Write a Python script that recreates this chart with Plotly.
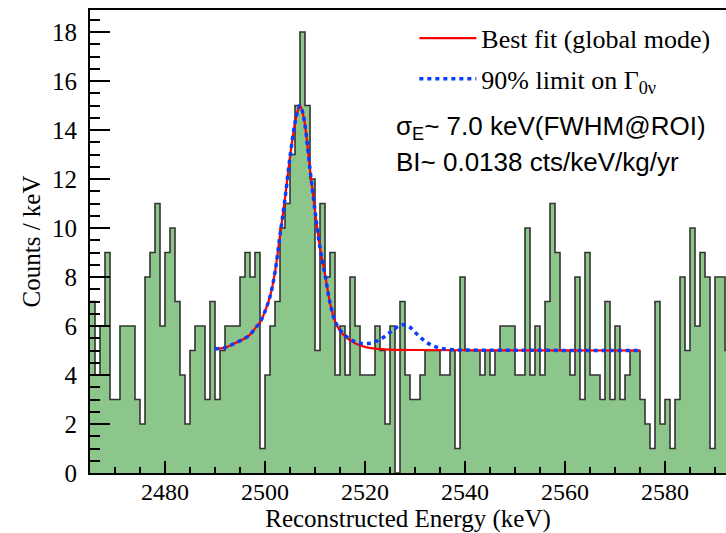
import plotly.graph_objects as go

# ---- data ----
bin_start = 2465          # left edge of first 1-keV bin
counts = [7, 4, 6, 9, 3, 3, 6, 6, 6, 3, 2, 8, 9, 11, 6,          # 2465-2479
          9, 10, 7, 4, 2, 5, 6, 6, 3, 7, 3, 5, 6, 6, 6, 8,       # 2480-2495
          9, 8, 9, 1, 4, 6, 7, 10, 11, 13, 15, 18, 15, 12, 5, 11, # 2496-2511
          8, 9, 4, 6, 4, 8, 6, 4, 4, 4, 6, 5, 2, 6, 0, 7,        # 2512-2527
          4, 3, 3, 4, 5, 5, 5, 4, 4, 5, 1, 8, 5, 5, 5, 4,        # 2528-2543
          5, 4, 5, 6, 6, 6, 4, 4, 10, 4, 6, 4, 7, 11, 9, 5,      # 2544-2559
          5, 4, 8, 3, 9, 4, 4, 3, 7, 3, 6, 3, 4, 5, 5, 3,        # 2560-2575
          2, 1, 7, 2, 3, 1, 3, 8, 5, 10, 6, 9, 8, 1, 8, 8, 5]    # 2576-2592

fit_x = [2490, 2492, 2494, 2496, 2497, 2498, 2499, 2500, 2501, 2502, 2503, 2504,
         2505, 2506, 2506.5, 2507, 2507.5, 2508, 2509, 2510, 2511, 2512, 2513,
         2514, 2515, 2516, 2518, 2520, 2522, 2525, 2530, 2540, 2575]
fit_y = [5.07, 5.12, 5.3, 5.5, 5.65, 5.9, 6.15, 6.6, 7.2, 8.2, 9.7, 11.2,
         12.9, 14.3, 14.75, 15.0, 14.75, 14.2, 12.4, 10.7, 9.2, 8.1, 6.95,
         6.2, 5.8, 5.58, 5.3, 5.15, 5.08, 5.04, 5.02, 5.01, 5.0]

lim_x = [2490, 2492, 2494, 2496, 2497, 2498, 2499, 2500, 2501, 2502, 2503, 2504,
         2505, 2506, 2506.5, 2507, 2507.5, 2508, 2509, 2510, 2511, 2512, 2513,
         2514, 2515, 2516, 2517, 2518, 2519, 2520, 2521, 2522, 2523, 2524, 2525,
         2526, 2527, 2528, 2529, 2530, 2531, 2532, 2533, 2534, 2535, 2536, 2538,
         2540, 2575]
lim_y = [5.07, 5.12, 5.3, 5.5, 5.65, 5.9, 6.15, 6.6, 7.2, 8.2, 9.7, 11.2,
         12.9, 14.3, 14.75, 15.0, 14.75, 14.2, 12.4, 10.7, 9.2, 8.1, 6.95,
         6.2, 5.85, 5.62, 5.47, 5.36, 5.3, 5.28, 5.3, 5.36, 5.45, 5.58, 5.74,
         5.9, 6.02, 6.05, 5.95, 5.75, 5.55, 5.38, 5.25, 5.16, 5.1, 5.06, 5.03,
         5.02, 5.0]

x_ticks = [2480, 2500, 2520, 2540, 2560, 2580]
y_ticks = [0, 2, 4, 6, 8, 10, 12, 14, 16, 18]

# ---- build step outline from bin edges ----
edges = [bin_start + i for i in range(len(counts) + 1)]
step_y = counts + [counts[-1]]

SERIF = "Liberation Serif, Times New Roman, serif"
SANS = "Liberation Sans, Arial, sans-serif"

fig = go.Figure()
fig.add_trace(go.Scatter(
    x=edges, y=step_y, mode="lines", line_shape="hv",
    line=dict(color="#333333", width=1.6),
    fill="tozeroy", fillcolor="#8cc68b", showlegend=False, hoverinfo="skip"))
fig.add_trace(go.Scatter(
    x=fit_x, y=fit_y, mode="lines", line_shape="spline",
    line=dict(color="#ff0000", width=2.2), name="Best fit (global mode)",
    legendgroup="fit"))
fig.add_trace(go.Scatter(
    x=lim_x, y=lim_y, mode="lines", line_shape="spline",
    line=dict(color="#0a3cff", width=3.5, dash="4px,4px"),
    name="90% limit on Γ<sub>0ν</sub>", legendgroup="lim"))

fig.update_layout(
    width=726, height=533,
    margin=dict(l=90, r=0, t=10, b=60),
    paper_bgcolor="white", plot_bgcolor="white",
    font=dict(family=SERIF, size=25, color="black"),
    legend=dict(x=0.51, y=0.99, xanchor="left", yanchor="top",
                bgcolor="rgba(0,0,0,0)", font=dict(family=SERIF, size=26),
                itemwidth=57, tracegroupgap=4),
    annotations=[
        dict(xref="paper", yref="paper", x=0.478, y=0.747, xanchor="left",
             yanchor="middle", showarrow=False,
             text="σ<sub>E</sub>~ 7.0 keV(FWHM@ROI)",
             font=dict(family=SANS, size=26, color="black")),
        dict(xref="paper", yref="paper", x=0.478, y=0.672, xanchor="left",
             yanchor="middle", showarrow=False,
             text="BI~ 0.0138 cts/keV/kg/yr",
             font=dict(family=SANS, size=26, color="black")),
    ],
)
fig.update_xaxes(
    range=[bin_start, bin_start + 127.2], tickvals=x_ticks,
    ticks="inside", ticklen=12, tickwidth=1.5, tickcolor="black",
    minor=dict(dtick=5, tick0=2480, ticks="inside", ticklen=6, tickwidth=1.5, tickcolor="black"),
    showline=True, linecolor="black", linewidth=2, mirror=True,
    showgrid=False, zeroline=False,
    tickfont=dict(family=SERIF, size=24),
    title=dict(text="Reconstructed Energy (keV)", font=dict(family=SERIF, size=25), standoff=3),
    ticklabelstandoff=-4,
)
fig.update_yaxes(
    range=[0, 18.9], tickvals=y_ticks,
    ticks="inside", ticklen=20, tickwidth=1.5, tickcolor="black",
    minor=dict(dtick=0.5, tick0=0, ticks="inside", ticklen=10, tickwidth=1.5, tickcolor="black"),
    showline=True, linecolor="black", linewidth=2,
    showgrid=False, zeroline=False,
    tickfont=dict(family=SERIF, size=25),
    title=dict(text="Counts / keV", font=dict(family=SERIF, size=25), standoff=4),
    ticklabelstandoff=6,
)

fig.write_html("out.html")
